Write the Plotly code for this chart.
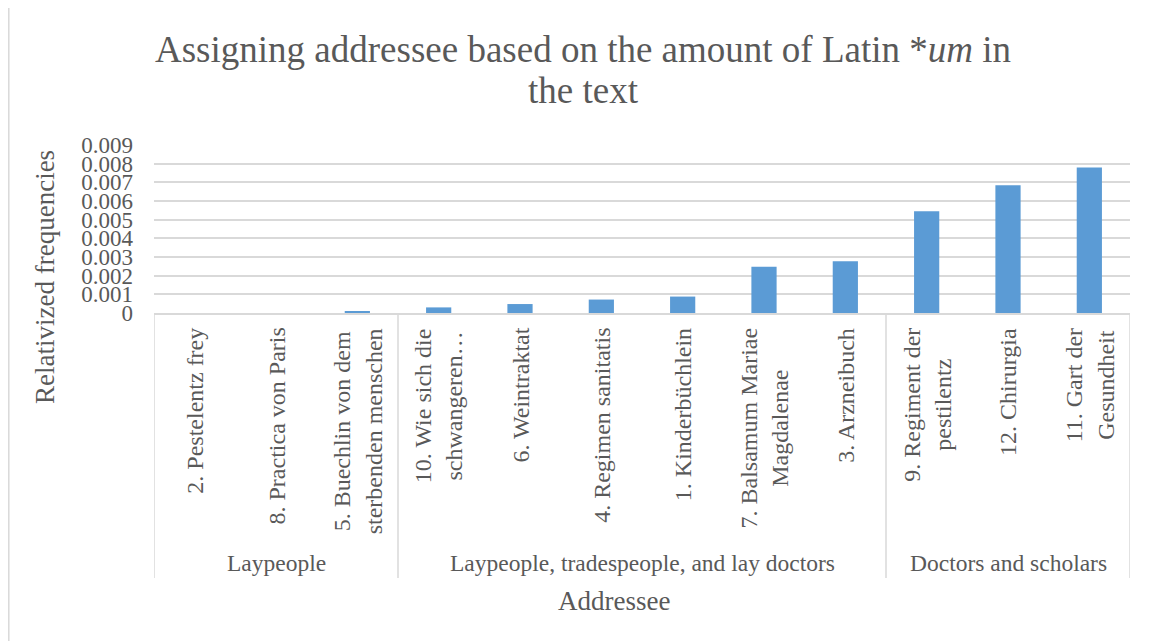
import plotly.graph_objects as go

groups = ["Laypeople", "Laypeople, tradespeople, and lay doctors", "Doctors and scholars"]
group_sizes = [3, 6, 3]
names = [
    "2. Pestelentz frey",
    "8. Practica von Paris",
    "5. Buechlin von dem<br>sterbenden menschen",
    "10. Wie sich die<br>schwangeren…",
    "6. Weintraktat",
    "4. Regimen sanitatis",
    "1. Kinderbüchlein",
    "7. Balsamum Mariae<br>Magdalenae",
    "3. Arzneibuch",
    "9. Regiment der<br>pestilentz",
    "12. Chirurgia",
    "11. Gart der<br>Gesundheit",
]
values = [0.0, 0.0, 0.00006, 0.0003, 0.00048, 0.00072, 0.00088, 0.00248, 0.00277, 0.00545, 0.00685, 0.0078]
y_ticks = [0, 0.001, 0.002, 0.003, 0.004, 0.005, 0.006, 0.007, 0.008, 0.009]
y_ticktext = ["0", "0.001", "0.002", "0.003", "0.004", "0.005", "0.006", "0.007", "0.008", "0.009"]
title_lines = ["Assigning addressee based on the amount of Latin *<i>um</i> in", "the text"]

FONT = "Liberation Serif"
TXT = "#595959"
GRID = "#D9D9D9"

OFF = 8  # page body margin
W, H = 1150 - OFF, 641 - OFF
# plot area in reference pixels: x 154..1130, y 145..313
L = 154 - OFF
R = W - (1130 - OFF)
T = 145 - OFF
B = H - (313 - OFF)
plot_h = H - T - B
plot_w = W - L - R

def py(ref_pix):
    return ((313 - OFF) - (ref_pix - OFF)) / plot_h

def px(ref_pix):
    return ((ref_pix - OFF) - L) / plot_w

cat_ids = list(range(len(names)))

fig = go.Figure()
fig.add_trace(go.Bar(
    x=cat_ids, y=values,
    marker=dict(color="#5B9BD5", line=dict(color="#5B9BD5", width=0)),
    width=0.31,
    hoverinfo="y",
))

annotations = []
# title (two lines, Excel-like tight line spacing)
TITLE_SIZE = 37
for line, base in zip(title_lines, [62, 103]):
    annotations.append(dict(
        x=px(583), xref="paper", y=py(base - 0.3375 * TITLE_SIZE), yref="paper",
        text=line, showarrow=False, xanchor="center", yanchor="middle",
        font=dict(family=FONT, size=TITLE_SIZE, color=TXT),
    ))

for i, n in enumerate(names):
    annotations.append(dict(
        x=i, xref="x", y=0, yref="paper", yshift=-13,
        text=n, textangle=-90, showarrow=False,
        xanchor="center", yanchor="top", align="center",
        font=dict(family=FONT, size=24, color=TXT),
    ))

start = 0
bounds = [-0.5]
for g, s in zip(groups, group_sizes):
    center = start + (s - 1) / 2
    annotations.append(dict(
        x=center, xref="x", y=py(563), yref="paper",
        text=g, showarrow=False, xanchor="center", yanchor="middle",
        font=dict(family=FONT, size=23.5, color=TXT),
    ))
    start += s
    bounds.append(start - 0.5)

annotations.append(dict(
    x=px(45), xref="paper", y=py(277), yref="paper",
    text="Relativized frequencies", textangle=-90, showarrow=False,
    xanchor="center", yanchor="middle",
    font=dict(family=FONT, size=27, color=TXT),
))
annotations.append(dict(
    x=px(614), xref="paper", y=py(601), yref="paper",
    text="Addressee", showarrow=False,
    xanchor="center", yanchor="middle",
    font=dict(family=FONT, size=27, color=TXT),
))

shapes = []
for bnd in bounds:
    shapes.append(dict(
        type="line", xref="x", yref="paper",
        x0=bnd, x1=bnd, y0=0, y1=py(578),
        line=dict(color=GRID, width=1.5),
    ))
# outer chart border (left edge)
shapes.append(dict(type="line", xref="paper", yref="paper",
                   x0=px(8.8), x1=px(8.8), y0=py(8), y1=py(H + 20),
                   line=dict(color=GRID, width=1.5)))

fig.update_layout(
    width=W, height=H,
    margin=dict(l=L, r=R, t=T, b=B, pad=0),
    paper_bgcolor="white", plot_bgcolor="white",
    showlegend=False,
    xaxis=dict(
        range=[-0.5, len(names) - 0.5],
        showticklabels=False, ticks="",
        showgrid=False, zeroline=False,
        showline=True, linecolor=GRID, linewidth=1.5,
        fixedrange=True,
    ),
    yaxis=dict(
        range=[0, 0.009],
        tickvals=y_ticks, ticktext=y_ticktext,
        tickfont=dict(family=FONT, size=23, color=TXT),
        showgrid=True, gridcolor=GRID, gridwidth=1.5,
        zeroline=False, showline=False, ticks="",
        ticklabelstandoff=20,
        fixedrange=True,
    ),
    annotations=annotations,
    shapes=shapes,
)

fig.write_html("out.html")
